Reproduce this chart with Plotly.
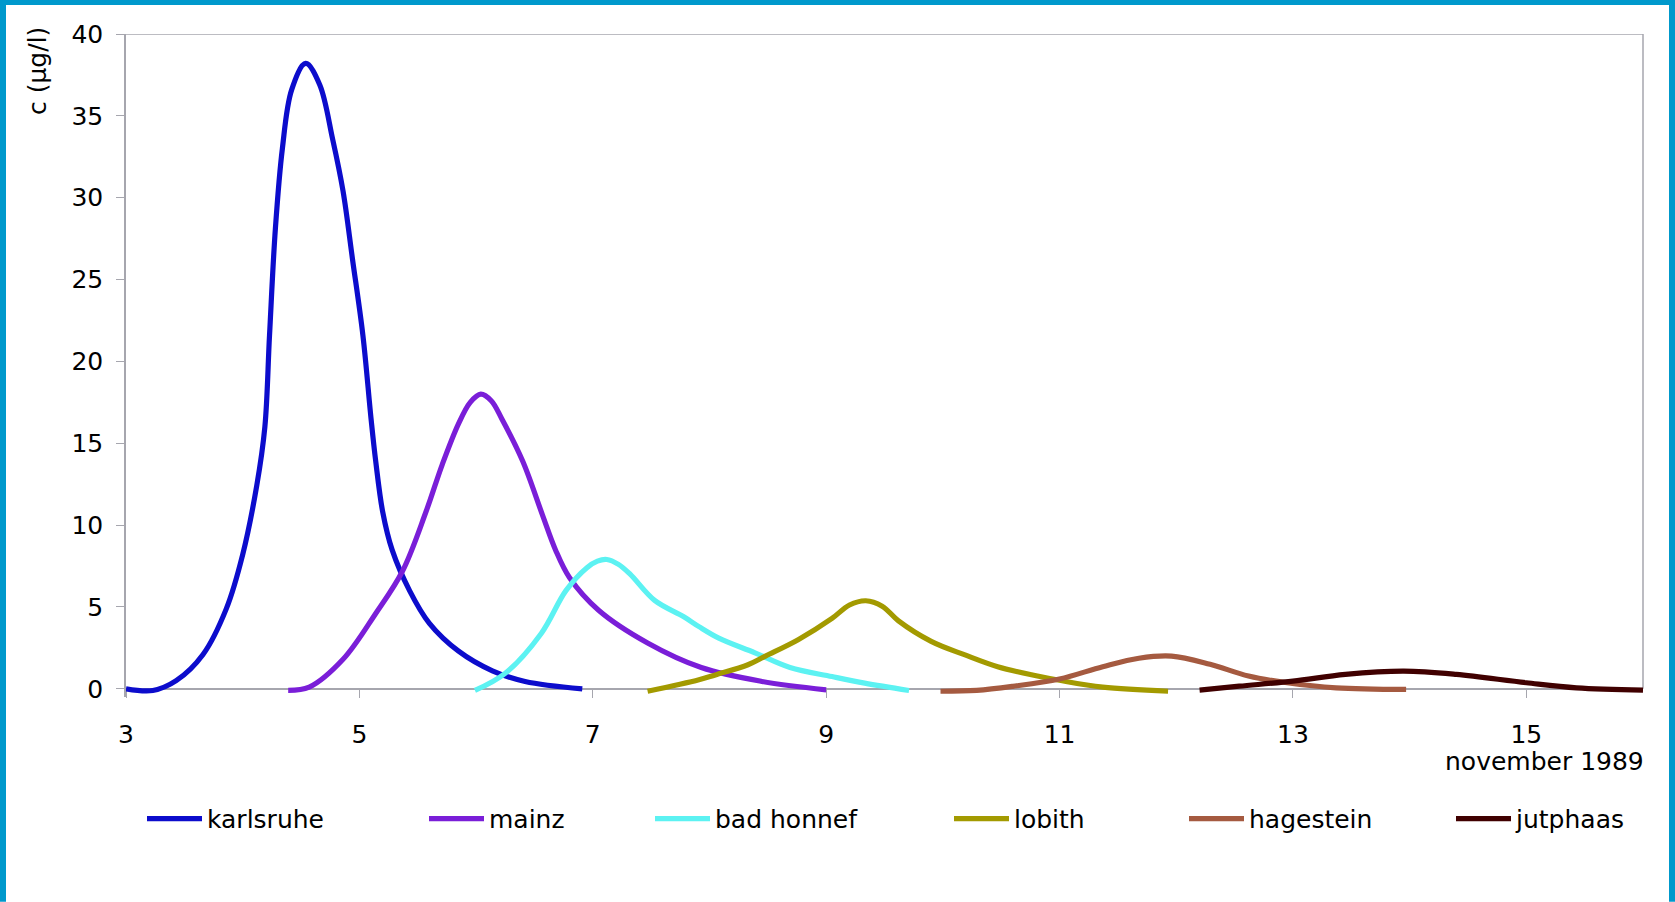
import plotly.graph_objects as go

# ---- data ----
series_names = ["karlsruhe", "mainz", "bad honnef", "lobith", "hagestein", "jutphaas"]
series_colors = ["#0C0CCC", "#7A1ED8", "#5CF2F2", "#A39A00", "#A55A40", "#400000"]

karlsruhe_x = [3.0, 3.23, 3.43, 3.66, 3.86, 4.0, 4.12, 4.19, 4.23, 4.28, 4.34, 4.42, 4.54, 4.66, 4.77, 4.86, 4.94, 5.03, 5.10, 5.14, 5.20, 5.28, 5.43, 5.60, 5.85, 6.14, 6.42, 6.91]
karlsruhe_y = [0.0, -0.1, 0.5, 2.1, 4.9, 8.2, 12.4, 16.0, 21.6, 28.1, 33.0, 36.6, 38.2, 36.9, 33.6, 30.4, 26.3, 21.6, 16.5, 13.9, 10.8, 8.5, 6.0, 4.0, 2.3, 1.1, 0.45, 0.0]

mainz_x = [4.39, 4.57, 4.86, 5.14, 5.37, 5.57, 5.71, 5.85, 5.95, 6.04, 6.13, 6.22, 6.40, 6.57, 6.68, 6.80, 7.05, 7.47, 7.93, 8.45, 9.0]
mainz_y = [-0.1, 0.1, 1.8, 4.6, 7.2, 10.8, 13.7, 16.2, 17.5, 18.0, 17.6, 16.5, 13.9, 10.6, 8.5, 6.8, 4.8, 2.8, 1.3, 0.45, -0.06]

bad_honnef_x = [5.99, 6.25, 6.56, 6.77, 6.95, 7.04, 7.12, 7.22, 7.32, 7.53, 7.78, 7.91, 8.08, 8.39, 8.69, 9.05, 9.33, 9.71]
bad_honnef_y = [-0.1, 0.95, 3.4, 6.0, 7.4, 7.8, 7.9, 7.6, 7.0, 5.4, 4.4, 3.8, 3.1, 2.2, 1.3, 0.75, 0.35, -0.1]

lobith_x = [7.47, 7.91, 8.05, 8.33, 8.48, 8.76, 9.05, 9.20, 9.34, 9.48, 9.62, 9.9, 10.19, 10.47, 10.8, 11.0, 11.37, 11.93]
lobith_y = [-0.15, 0.55, 0.85, 1.47, 2.0, 3.0, 4.3, 5.12, 5.38, 5.05, 4.15, 2.9, 2.07, 1.35, 0.8, 0.52, 0.1, -0.15]

hagestein_x = [9.98, 10.29, 10.6, 11.0, 11.37, 11.68, 11.96, 12.29, 12.62, 12.95, 13.37, 13.97]
hagestein_y = [-0.15, -0.1, 0.15, 0.6, 1.35, 1.87, 2.0, 1.5, 0.78, 0.37, 0.06, -0.04]

jutphaas_x = [12.2, 12.54, 13.0, 13.45, 13.95, 14.4, 15.0, 15.43, 16.0]
jutphaas_y = [-0.08, 0.16, 0.47, 0.88, 1.08, 0.88, 0.37, 0.06, -0.08]

series_x = [karlsruhe_x, mainz_x, bad_honnef_x, lobith_x, hagestein_x, jutphaas_x]
series_y = [karlsruhe_y, mainz_y, bad_honnef_y, lobith_y, hagestein_y, jutphaas_y]

x_ticks = [3, 5, 7, 9, 11, 13, 15]
y_ticks = [0, 5, 10, 15, 20, 25, 30, 35, 40]
x_title = "november 1989"
y_title = "c (µg/l)"

# ---- layout geometry ----
W, H = 1675, 902
L, R, T = 126, 32, 34
Y0_PX = 689            # pixel row of y = 0
Y_MIN, Y_MAX = -0.5, 40
px_per_unit = (Y0_PX - T) / Y_MAX
plot_bottom = Y0_PX + (-Y_MIN) * px_per_unit
B = H - plot_bottom
plot_w = W - L - R
plot_h = plot_bottom - T

def px_to_paper_x(px):
    return (px - L) / plot_w

def px_to_paper_y(py):
    return (plot_bottom - py) / plot_h

FONT = "DejaVu Sans"
FS = 25
AXIS_GRAY = "#A6A6AE"
BORDER_BLUE = "#0099CC"

fig = go.Figure()
legend_ids = ["legend", "legend2", "legend3", "legend4", "legend5", "legend6"]
for name, color, xs, ys, lg in zip(series_names, series_colors, series_x, series_y, legend_ids):
    fig.add_trace(go.Scatter(
        x=xs, y=ys, name=name, mode="lines",
        line=dict(color=color, width=5.2, shape="spline", smoothing=1.0),
        legend=lg, hoverinfo="x+y+name",
    ))

# legend positions (pixels)
legend_px = [148, 430, 656, 955, 1190, 1457]
legend_y_px = 819
layout_legends = {}
for lg, spx in zip(legend_ids, legend_px):
    layout_legends[lg] = dict(
        x=px_to_paper_x(spx - 6), xanchor="left",
        y=px_to_paper_y(legend_y_px), yanchor="middle",
        orientation="h", bgcolor="rgba(0,0,0,0)", borderwidth=0,
        font=dict(family=FONT, size=FS, color="#000000"),
        itemwidth=55, itemclick=False, itemdoubleclick=False,
    )

zero_paper = (0 - Y_MIN) / (Y_MAX - Y_MIN)

fig.update_layout(
    width=W, height=H,
    margin=dict(l=L, r=R, t=T, b=B, pad=0),
    paper_bgcolor="white", plot_bgcolor="white",
    font=dict(family=FONT, size=FS, color="#000000"),
    showlegend=True,
    xaxis=dict(
        range=[3, 16], tickvals=x_ticks, ticktext=[str(v) for v in x_ticks],
        showgrid=False, zeroline=False,
        showline=True, linecolor=AXIS_GRAY, linewidth=1.5,
        ticks="outside", ticklen=8, tickwidth=1.2, tickcolor=AXIS_GRAY,
        anchor="free", position=zero_paper,
        ticklabelstandoff=15, layer="below traces",
        tickfont=dict(family=FONT, size=FS, color="#000000"),
    ),
    yaxis=dict(
        range=[Y_MIN, Y_MAX], tickvals=y_ticks, ticktext=[str(v) for v in y_ticks],
        showgrid=False, zeroline=False,
        showline=True, linecolor=AXIS_GRAY, linewidth=1.5,
        ticks="outside", ticklen=8, tickwidth=1.2, tickcolor=AXIS_GRAY,
        ticklabelstandoff=8, layer="below traces",
        tickfont=dict(family=FONT, size=FS, color="#000000"),
    ),
    **layout_legends,
)

# plot frame (top and right) and outer blue border
shapes = [
    dict(type="line", xref="paper", yref="y", x0=0, x1=1, y0=Y_MAX, y1=Y_MAX,
         line=dict(color=AXIS_GRAY, width=1.5), layer="below"),
    dict(type="line", xref="paper", yref="y", x0=1, x1=1, y0=0, y1=Y_MAX,
         line=dict(color=AXIS_GRAY, width=1.5), layer="below"),
    dict(type="rect", xref="paper", yref="paper",
         x0=px_to_paper_x(0), x1=px_to_paper_x(6), y0=px_to_paper_y(H), y1=px_to_paper_y(0),
         fillcolor=BORDER_BLUE, line=dict(width=0), layer="above"),
    dict(type="rect", xref="paper", yref="paper",
         x0=px_to_paper_x(0), x1=px_to_paper_x(W), y0=px_to_paper_y(5), y1=px_to_paper_y(0),
         fillcolor=BORDER_BLUE, line=dict(width=0), layer="above"),
    dict(type="rect", xref="paper", yref="paper",
         x0=px_to_paper_x(W - 6), x1=px_to_paper_x(W), y0=px_to_paper_y(H), y1=px_to_paper_y(0),
         fillcolor=BORDER_BLUE, line=dict(width=0), layer="above"),
]
fig.update_layout(shapes=shapes)

fig.add_annotation(
    text=y_title, textangle=-90, showarrow=False,
    xref="paper", yref="paper",
    x=px_to_paper_x(37), y=px_to_paper_y(25),
    xanchor="center", yanchor="top",
    font=dict(family=FONT, size=FS, color="#000000"),
)
fig.add_annotation(
    text=x_title, showarrow=False,
    xref="paper", yref="paper",
    x=px_to_paper_x(1646), y=px_to_paper_y(762),
    xanchor="right", yanchor="middle",
    font=dict(family=FONT, size=FS, color="#000000"),
)

fig.write_html(
    "out.html",
    config={"displayModeBar": False},
    post_script="document.body.style.margin='0';document.body.style.overflow='hidden';",
)
